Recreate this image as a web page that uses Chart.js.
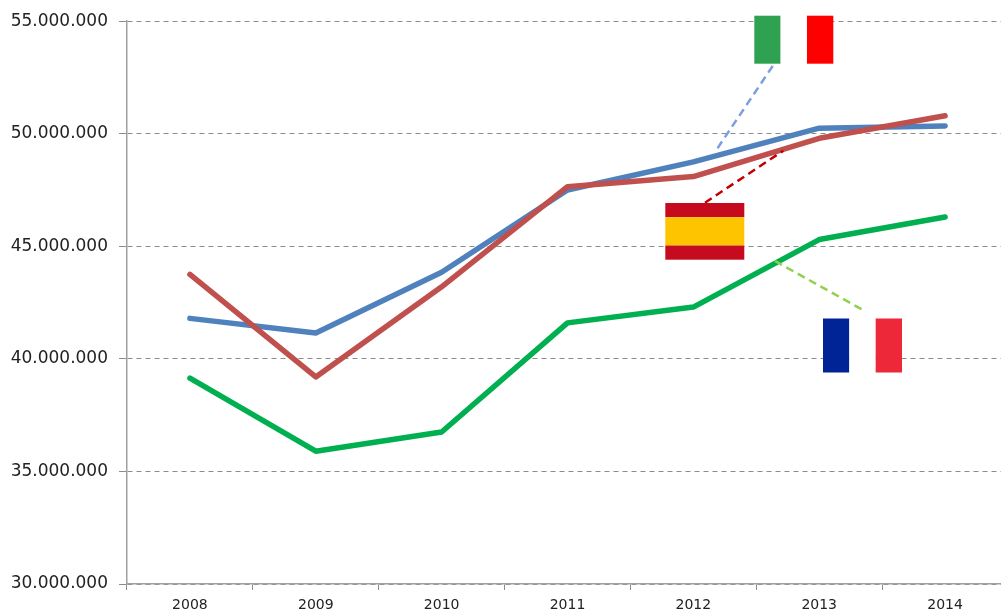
<!DOCTYPE html>
<html>
<head>
<meta charset="utf-8">
<style>html,body{margin:0;padding:0;background:#fff;overflow:hidden}#w{position:relative;width:1001px;height:610px;overflow:hidden}canvas{display:block}</style>
<script src="https://cdn.jsdelivr.net/npm/chart.js@4"></script>
</head>
<body>
<div id="w"><canvas id="c" width="1008" height="610"></canvas></div>
<script>
const years = ['2008','2009','2010','2011','2012','2013','2014'];
const italy = [41800000,41150000,43850000,47500000,48750000,50250000,50350000];
const spain = [43750000,39200000,43200000,47650000,48100000,49800000,50800000];
const france = [39150000,35900000,36750000,41600000,42300000,45300000,46300000];
const flags = [
  {x:754.3,y:15.7,w:79,h:48,dir:'v',stripes:[['#2FA252',1],['#FFFFFF',1],['#FF0000',1]]},
  {x:665.3,y:203,w:79,h:56.7,dir:'h',stripes:[['#C60B1E',1],['#FFC400',2],['#C60B1E',1]]},
  {x:823,y:318.5,w:79,h:54,dir:'v',stripes:[['#002395',1],['#FFFFFF',1],['#ED2939',1]]}
];
const leaders = [
  {from:[772.7,66],to:[715,152],color:'#7C9FE0'},
  {from:[705,202.7],to:[783.3,150.7],color:'#C00000'},
  {from:[775,261],to:[861.7,309.3],color:'#92D050'}
];
const overlay = {
  id:'overlay',
  afterDatasetsDraw(chart){
    const g = chart.ctx;
    g.save();
    flags.forEach(f=>{
      const total = f.stripes.reduce((s,a)=>s+a[1],0);
      let p = 0;
      f.stripes.forEach(([col,n])=>{
        g.fillStyle = col;
        if(f.dir==='v') g.fillRect(f.x+f.w*p/total,f.y,f.w*n/total,f.h);
        else g.fillRect(f.x,f.y+f.h*p/total,f.w,f.h*n/total);
        p += n;
      });
    });
    g.lineWidth = 2.5;
    g.setLineDash([8,5]);
    leaders.forEach(l=>{
      g.strokeStyle = l.color;
      g.beginPath();g.moveTo(l.from[0],l.from[1]);g.lineTo(l.to[0],l.to[1]);g.stroke();
    });
    g.restore();
  }
};
const line = (label,data,color)=>({label,data,borderColor:color,backgroundColor:color,borderWidth:5.5,pointRadius:0,tension:0,borderCapStyle:'round',borderJoinStyle:'round',clip:false});
new Chart(document.getElementById('c'),{
  type:'line',
  data:{labels:years,datasets:[line('España',spain,'#C0504D'),line('Italia',italy,'#4F81BD'),line('France',france,'#00B050')]},
  plugins:[overlay],
  options:{
    responsive:false,animation:false,
    layout:{padding:{top:21,right:0,left:0,bottom:0}},
    plugins:{legend:{display:false},tooltip:{enabled:false},title:{display:false}},
    scales:{
      x:{
        offset:true,
        afterFit(s){s.height=26;},
        grid:{drawOnChartArea:false,color:'#8C8C8C',tickLength:6,offset:true},
        border:{color:'#A0A0A0',width:1.5},
        ticks:{color:'#222222',font:{family:'DejaVu Sans',size:14},padding:7,maxRotation:0,autoSkip:false}
      },
      y:{
        min:30000000,max:55000000,
        afterFit(s){s.width=127;},
        grid:{color:'#8C8C8C',lineWidth:1,tickLength:8,tickBorderDash:[]},
        border:{color:'#A0A0A0',width:1.5,dash:[5,4]},
        ticks:{stepSize:5000000,color:'#222222',font:{family:'DejaVu Sans',size:17},padding:11,
          callback:v=>String(v).replace(/\B(?=(\d{3})+$)/g,'.')}
      }
    }
  }
});
</script>
</body>
</html>
